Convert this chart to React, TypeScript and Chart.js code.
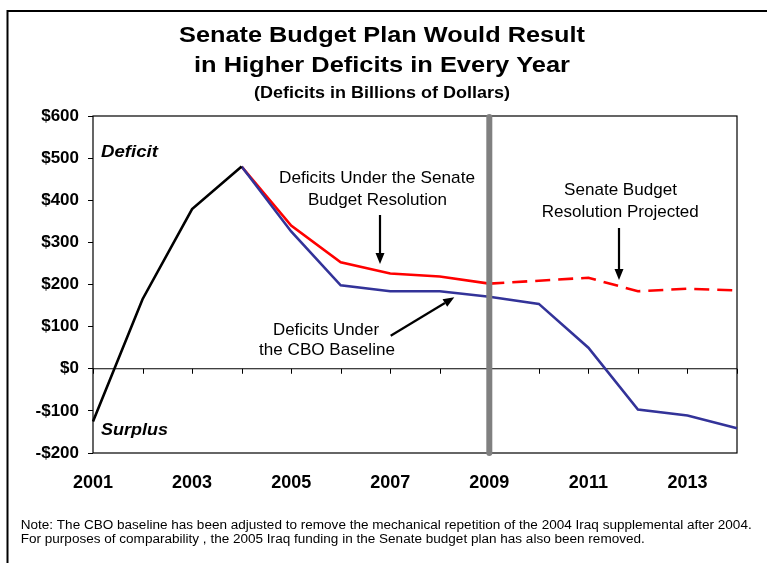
import React, { useEffect, useRef } from "react";
import { Chart, registerables } from "chart.js";

Chart.register(...registerables);

const years = ["2001", "2002", "2003", "2004", "2005", "2006", "2007", "2008", "2009", "2010", "2011", "2012", "2013", "2014"];
const actualDeficits = [-125, 165, 379, 480, null, null, null, null, null, null, null, null, null, null];
const senateDeficits = [null, null, null, 480, 340, 253, 226, 219, 202, 209, 216, 184, 190, 186];
const cboDeficits = [null, null, null, 480, 326, 198, 184, 184, 171, 154, 50, -97, -111, -141];
const projectionStartIndex = 8; // 2009
const yMin = -200;
const yMax = 600;
const yStep = 100;

const titleLines = ["Senate Budget Plan Would Result", "in Higher Deficits in Every Year"];
const subtitleText = "(Deficits in Billions of Dollars)";
const deficitLabel = "Deficit";
const surplusLabel = "Surplus";
const senateNote = ["Deficits Under the Senate", "Budget Resolution"];
const projectedNote = ["Senate Budget", "Resolution Projected"];
const cboNote = ["Deficits Under", "the CBO Baseline"];
const footnotes = [
  "Note: The CBO baseline has been adjusted to remove the mechanical repetition of the 2004 Iraq supplemental after 2004.",
  "For purposes of comparability , the 2005 Iraq funding in the Senate budget plan has also been removed.",
];

const FONT = '"Liberation Sans", Arial, sans-serif';

function fitText(
  ctx: CanvasRenderingContext2D,
  text: string,
  x: number,
  y: number,
  font: string,
  width: number | null,
  align: "left" | "center",
  fixedScale?: number
): number {
  ctx.save();
  ctx.font = font;
  ctx.textBaseline = "alphabetic";
  ctx.textAlign = "left";
  ctx.fillStyle = "#000";
  const w = ctx.measureText(text).width;
  const s = fixedScale != null ? fixedScale : width != null ? width / w : 1;
  const drawn = w * s;
  const left = align === "center" ? x - drawn / 2 : x;
  ctx.translate(left, y);
  ctx.scale(s, 1);
  ctx.fillText(text, 0, 0);
  ctx.restore();
  return s;
}

function arrow(ctx: CanvasRenderingContext2D, x1: number, y1: number, x2: number, y2: number) {
  const ang = Math.atan2(y2 - y1, x2 - x1);
  const hl = 11;
  const hw = 4.5;
  const bx = x2 - hl * Math.cos(ang);
  const by = y2 - hl * Math.sin(ang);
  ctx.save();
  ctx.strokeStyle = "#000";
  ctx.fillStyle = "#000";
  ctx.lineWidth = 2.2;
  ctx.beginPath();
  ctx.moveTo(x1, y1);
  ctx.lineTo(bx, by);
  ctx.stroke();
  ctx.beginPath();
  ctx.moveTo(x2, y2);
  ctx.lineTo(bx + hw * Math.sin(ang), by - hw * Math.cos(ang));
  ctx.lineTo(bx - hw * Math.sin(ang), by + hw * Math.cos(ang));
  ctx.closePath();
  ctx.fill();
  ctx.restore();
}

const decorPlugin = {
  id: "decor",
  beforeDraw(chart: any) {
    const ctx: CanvasRenderingContext2D = chart.ctx;
    ctx.save();
    ctx.fillStyle = "#fff";
    ctx.fillRect(0, 0, chart.width, chart.height);
    ctx.strokeStyle = "#000";
    ctx.lineWidth = 2;
    ctx.strokeRect(7.5, 11, 1000, 1000);
    ctx.restore();

    fitText(ctx, titleLines[0], 382, 42, `bold 22.5px ${FONT}`, 406, "center");
    fitText(ctx, titleLines[1], 382, 71.5, `bold 22.5px ${FONT}`, 376, "center");
    fitText(ctx, subtitleText, 382, 98, `bold 17px ${FONT}`, 256, "center");

    const s = fitText(ctx, footnotes[0], 20.7, 528.5, `12.5px ${FONT}`, 731, "left");
    fitText(ctx, footnotes[1], 20.7, 543, `12.5px ${FONT}`, null, "left", s);
  },
  beforeDatasetsDraw(chart: any) {
    const ctx: CanvasRenderingContext2D = chart.ctx;
    const { left, right, top, bottom } = chart.chartArea;
    const xs = chart.scales.x;
    const ys = chart.scales.y;
    const y0 = ys.getPixelForValue(0);
    ctx.save();
    ctx.strokeStyle = "#000";
    ctx.lineWidth = 1;
    ctx.beginPath();
    ctx.moveTo(left, y0);
    ctx.lineTo(right, y0);
    for (let i = 0; i < years.length; i++) {
      const x = Math.round(xs.getPixelForValue(i)) + 0.5;
      ctx.moveTo(x, y0);
      ctx.lineTo(x, y0 + 5);
    }
    ctx.stroke();
    ctx.lineWidth = 1.2;
    ctx.strokeRect(left, top, right - left, bottom - top);
    ctx.restore();
  },
  afterDatasetsDraw(chart: any) {
    const ctx: CanvasRenderingContext2D = chart.ctx;
    const { top, bottom } = chart.chartArea;
    const xs = chart.scales.x;
    const xg = xs.getPixelForValue(projectionStartIndex);
    ctx.save();
    ctx.strokeStyle = "#808080";
    ctx.lineWidth = 6;
    ctx.lineCap = "round";
    ctx.beginPath();
    ctx.moveTo(xg, top + 1);
    ctx.lineTo(xg, bottom);
    ctx.stroke();
    ctx.restore();

    fitText(ctx, deficitLabel, 101, 157, `italic bold 17px ${FONT}`, 57, "left");
    fitText(ctx, surplusLabel, 101, 435, `italic bold 17px ${FONT}`, 67, "left");

    fitText(ctx, senateNote[0], 377, 183.3, `17px ${FONT}`, 196, "center");
    fitText(ctx, senateNote[1], 377.5, 205, `17px ${FONT}`, 139, "center");
    fitText(ctx, projectedNote[0], 620.5, 195, `17px ${FONT}`, 113, "center");
    fitText(ctx, projectedNote[1], 620.3, 216.5, `17px ${FONT}`, 157, "center");
    fitText(ctx, cboNote[0], 326, 335, `17px ${FONT}`, 106, "center");
    fitText(ctx, cboNote[1], 327, 355, `17px ${FONT}`, 136, "center");

    arrow(ctx, 380, 215, 380, 264);
    arrow(ctx, 619, 228, 619, 280);
    arrow(ctx, 390.7, 335.7, 454.3, 297.3);
  },
};

export default function App() {
  const canvasRef = useRef<HTMLCanvasElement | null>(null);

  useEffect(() => {
    if (!canvasRef.current) return;
    const chart = new Chart(canvasRef.current, {
      type: "line",
      data: {
        labels: years,
        datasets: [
          {
            label: "Actual",
            data: actualDeficits,
            borderColor: "#000000",
            borderWidth: 2.6,
            pointRadius: 0,
            tension: 0,
            spanGaps: false,
          },
          {
            label: "CBO Baseline",
            data: cboDeficits,
            borderColor: "#333399",
            borderWidth: 2.6,
            pointRadius: 0,
            tension: 0,
          },
          {
            label: "Senate Budget Resolution",
            data: senateDeficits,
            borderColor: "#FF0000",
            borderWidth: 2.6,
            pointRadius: 0,
            tension: 0,
            segment: {
              borderDash: (c: any) => (c.p0DataIndex >= projectionStartIndex ? [15, 8] : undefined),
            },
          },
        ],
      },
      options: {
        animation: false,
        responsive: true,
        maintainAspectRatio: false,
        layout: { padding: { top: 116, right: 30, left: 0, bottom: 0 } },
        plugins: {
          legend: { display: false },
          title: { display: false },
          tooltip: { enabled: false },
        },
        scales: {
          x: {
            type: "category",
            offset: false,
            grid: { display: false },
            border: { display: false },
            afterFit: (scale: any) => {
              scale.height = 110;
            },
            ticks: {
              autoSkip: false,
              maxRotation: 0,
              padding: 11,
              color: "#000",
              font: { family: FONT, size: 18, weight: "bold" },
              callback: (_v: any, i: number) => (i % 2 === 0 && i < years.length - 1 ? years[i] : ""),
            },
          },
          y: {
            min: yMin,
            max: yMax,
            grid: { display: true, drawOnChartArea: false, tickLength: 5, color: "#000" },
            border: { display: false },
            afterFit: (scale: any) => {
              scale.width = 93;
            },
            ticks: {
              stepSize: yStep,
              padding: 9,
              color: "#000",
              font: { family: FONT, size: 17, weight: "bold" },
              callback: (v: any) => (v < 0 ? `-$${Math.abs(v)}` : `$${v}`),
            },
          },
        },
      },
      plugins: [decorPlugin],
    });
    return () => chart.destroy();
  }, []);

  return (
    <div style={{ position: "absolute", left: 0, top: 0, width: 767, height: 563 }}>
      <canvas ref={canvasRef} />
    </div>
  );
}
